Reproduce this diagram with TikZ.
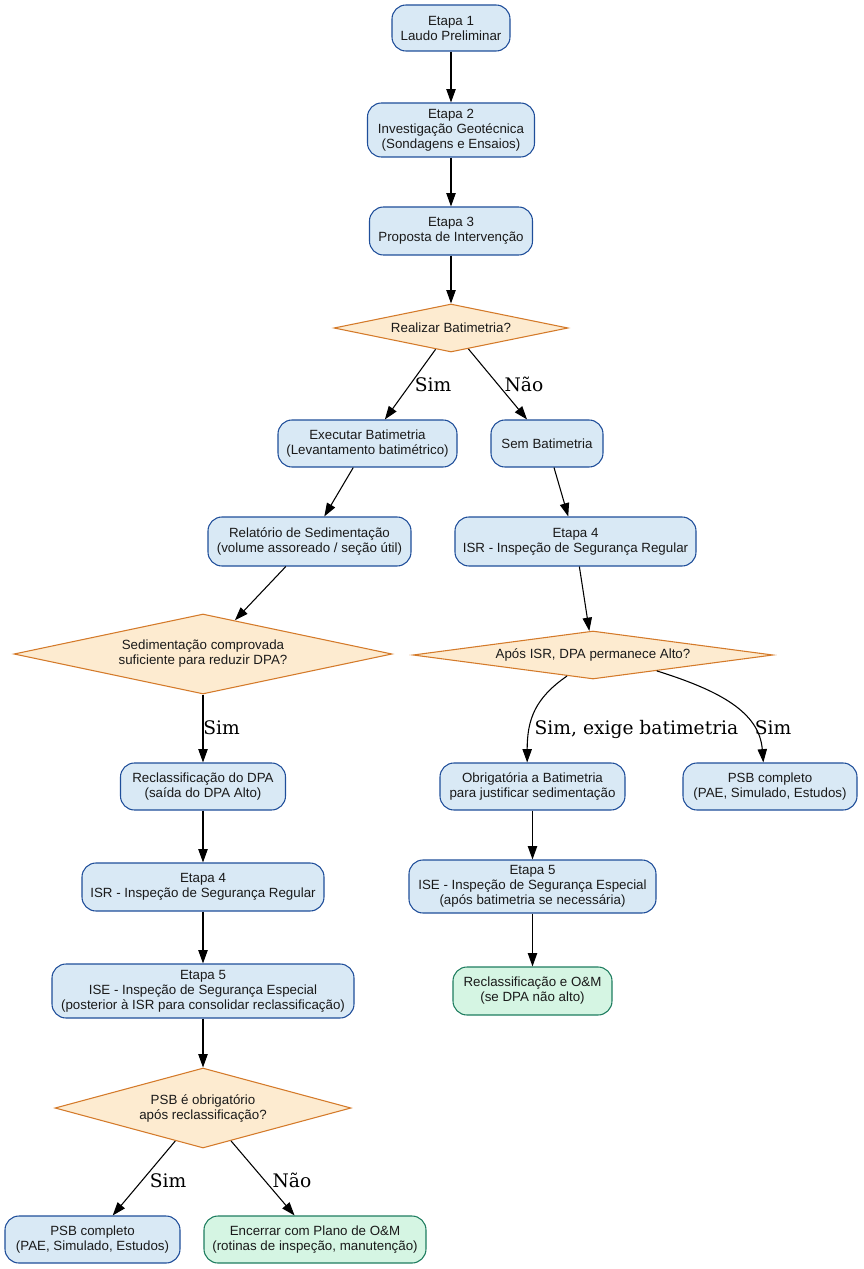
\documentclass[tikz,border=0pt]{standalone}
\usepackage{fontspec}
\setmainfont{Liberation Sans}
\newfontfamily\lblfont{DejaVu Serif}
\usetikzlibrary{shapes.geometric,arrows.meta}
\definecolor{bfill}{HTML}{D9E9F5}
\definecolor{bdraw}{HTML}{1F4E9A}
\definecolor{ofill}{HTML}{FDEBD0}
\definecolor{odraw}{HTML}{D47A2A}
\definecolor{gfill}{HTML}{D5F5E3}
\definecolor{gdraw}{HTML}{1E7D5F}
\definecolor{txt}{HTML}{1A1A1A}
\tikzset{
  box/.style={draw=bdraw, fill=bfill, rounded corners=10.5pt, line width=0.8pt, inner sep=0pt, align=center, text=txt, font=\fontsize{10}{11.25}\selectfont},
  gbox/.style={box, draw=gdraw, fill=gfill},
  dec/.style={diamond, draw=odraw, fill=ofill, line width=0.8pt, inner sep=0pt, align=center, text=txt, font=\fontsize{10}{11.25}\selectfont},
  edge/.style={draw=black, line width=0.8pt, -{Triangle[length=10pt,width=7pt]}},
  lbl/.style={anchor=base, inner sep=0pt, font=\lblfont\fontsize{14}{16}\selectfont, text=black}
}
\begin{document}
\begin{tikzpicture}[x=0.75pt, y=-0.75pt]
\useasboundingbox (0,0) rectangle (863,1269);
% nodes
\node[box, minimum width=88.5pt, minimum height=34.5pt] (n1) at (451,28) {Etapa 1\\Laudo Preliminar};
\node[box, minimum width=125.25pt, minimum height=40.5pt] (n2) at (451,130) {Etapa 2\\Investigação Geotécnica\\(Sondagens e Ensaios)};
\node[box, minimum width=122.25pt, minimum height=36pt] (n3) at (451,231) {Etapa 3\\Proposta de Intervenção};
\node[dec, aspect=4.9, minimum width=175.5pt, minimum height=36pt] (d1) at (451,328) {Realizar Batimetria?};
\node[box, minimum width=134.25pt, minimum height=35.25pt] (exec) at (367.5,443.5) {Executar Batimetria\\(Levantamento batimétrico)};
\node[box, minimum width=84pt, minimum height=35.25pt] (sem) at (547,443.5) {Sem Batimetria};
\node[box, minimum width=152.25pt, minimum height=36.75pt] (rel) at (309.5,541.5) {Relatório de Sedimentação\\(volume assoreado / seção útil)};
\node[box, minimum width=180.75pt, minimum height=36.75pt] (e4r) at (575.5,541.5) {Etapa 4\\ISR - Inspeção de Segurança Regular};
\node[dec, aspect=4.7, minimum width=283.5pt, minimum height=60pt] (d2) at (203,654) {Sedimentação comprovada\\suficiente para reduzir DPA?};
\node[dec, aspect=7.5, minimum width=270pt, minimum height=36pt] (d3) at (593,655) {Após ISR, DPA permanece Alto?};
\node[box, minimum width=123.75pt, minimum height=35.25pt] (recl) at (203,786.5) {Reclassificação do DPA\\(saída do DPA Alto)};
\node[box, minimum width=138.75pt, minimum height=35.25pt] (obr) at (532.5,786.5) {Obrigatória a Batimetria\\para justificar sedimentação};
\node[box, minimum width=130.5pt, minimum height=35.25pt] (psbr) at (770,786.5) {PSB completo\\(PAE, Simulado, Estudos)};
\node[box, minimum width=181.5pt, minimum height=36pt] (e4l) at (203,887) {Etapa 4\\ISR - Inspeção de Segurança Regular};
\node[box, minimum width=185.25pt, minimum height=39.75pt] (e5r) at (532.5,886.5) {Etapa 5\\ISE - Inspeção de Segurança Especial\\(após batimetria se necessária)};
\node[box, minimum width=226.5pt, minimum height=40.5pt] (e5l) at (203,991) {Etapa 5\\ISE - Inspeção de Segurança Especial\\(posterior à ISR para consolidar reclassificação)};
\node[gbox, minimum width=119.25pt, minimum height=36pt] (recom) at (532.5,991) {Reclassificação e O\&M\\(se DPA não alto)};
\node[dec, aspect=3.7, minimum width=222pt, minimum height=60pt] (d4) at (203,1108) {PSB é obrigatório\\após reclassificação?};
\node[box, minimum width=131.25pt, minimum height=35.25pt] (psbl) at (92.5,1239.5) {PSB completo\\(PAE, Simulado, Estudos)};
\node[gbox, minimum width=166.5pt, minimum height=35.25pt] (enc) at (315,1239.5) {Encerrar com Plano de O\&M\\(rotinas de inspeção, manutenção)};
% edges
\draw[edge] (n1) -- (n2);
\draw[edge] (n2) -- (n3);
\draw[edge] (n3) -- (d1);
\draw[edge] (d1) -- (exec);
\draw[edge] (d1) -- (sem);
\draw[edge] (exec) -- (rel);
\draw[edge] (sem) -- (e4r);
\draw[edge] (rel) -- (d2);
\draw[edge] (e4r) -- (d3);
\draw[edge] (d2) -- (recl);
\draw[edge] (d3.219) .. controls +(-32,22) and +(0,-43) .. ([xshift=-4pt]obr.north);
\draw[edge] (d3.346) .. controls +(64,20) and +(-4,-50) .. ([xshift=-5pt]psbr.north);
\draw[edge] (recl) -- (e4l);
\draw[edge] (e4l) -- (e5l);
\draw[edge] (e5l) -- (d4);
\draw[edge] (obr) -- (e5r);
\draw[edge] (e5r) -- (recom);
\draw[edge] (d4) -- (psbl);
\draw[edge] (d4) -- (enc);
% edge labels
\node[lbl] (l1) at (433,391) {Sim};
\node[lbl] (l2) at (524,391) {Não};
\node[lbl] (l3) at (221.5,734) {Sim};
\node[lbl] (l4) at (636.5,734) {Sim, exige batimetria};
\node[lbl] (l5) at (773,734) {Sim};
\node[lbl] (l6) at (168,1187) {Sim};
\node[lbl] (l7) at (292,1187) {Não};
\end{tikzpicture}
\end{document}
